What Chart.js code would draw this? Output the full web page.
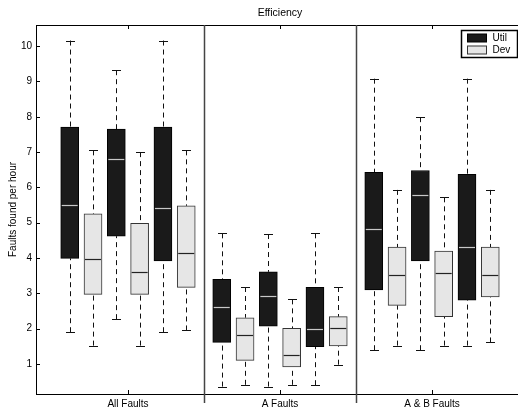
<!DOCTYPE html>
<html>
<head>
<meta charset="utf-8">
<script src="https://cdn.jsdelivr.net/npm/chart.js@4.4.1/dist/chart.umd.min.js"></script>
<style>
  html, body { margin: 0; padding: 0; background: #fff; overflow: hidden; }
  #wrap { width: 524px; height: 412px; }
</style>
</head>
<body>
<div id="wrap"><canvas id="effChart" width="524" height="412"></canvas></div>
<script>
// values
var groups = ['All Faults', 'A Faults', 'A & B Faults'];
var seriesNames = ['Util', 'Dev'];
var yTicks = [1, 2, 3, 4, 5, 6, 7, 8, 9, 10];
// each box: [min, q1, median, q3, max], three boxes per group
var utilBoxes = [
    [1.90, 3.99, 5.51, 7.71, 10.16],
    [2.27, 4.62, 6.81, 7.65, 9.32],
    [1.90, 3.92, 5.42, 7.71, 10.16],
    [0.36, 1.61, 2.61, 3.40, 4.70],
    [0.36, 2.07, 2.93, 3.61, 4.68],
    [0.40, 1.49, 1.98, 3.17, 4.70],
    [1.39, 3.10, 4.82, 6.43, 9.08],
    [1.39, 3.92, 5.79, 6.48, 7.99],
    [1.52, 2.81, 4.31, 6.37, 9.08]
];
var devBoxes = [
    [1.52, 2.97, 3.97, 5.25, 7.05],
    [1.52, 2.97, 3.60, 4.98, 7.00],
    [1.95, 3.17, 4.14, 5.48, 7.05],
    [0.41, 1.10, 1.82, 2.31, 3.18],
    [0.41, 0.92, 1.25, 2.01, 2.83],
    [0.98, 1.51, 2.03, 2.34, 3.18],
    [1.52, 2.66, 3.53, 4.31, 5.93],
    [1.52, 2.34, 3.57, 4.20, 5.72],
    [1.61, 2.90, 3.51, 4.31, 5.93]
];

var FONT = "'Liberation Sans', Arial, sans-serif";
var slotGap = 0.1533;   // distance between neighbouring boxes, in group units
var boxPx = 18;

// boxes go Util, Dev, Util, Dev, Util, Dev inside each group
function boxX(i, seriesIdx) {
    var g = Math.floor(i / 3);
    var slot = (i % 3) * 2 + seriesIdx;
    return g + 1 + (slot - 2.5) * slotGap;
}

function makeDataset(name, boxes, seriesIdx, fill, border, medColor) {
    return {
        label: name,
        data: boxes.map(function (b, i) { return { x: boxX(i, seriesIdx), y: [b[1], b[3]] }; }),
        stats: boxes,
        backgroundColor: fill,
        borderColor: border,
        borderWidth: 1,
        borderSkipped: false,
        barThickness: boxPx,
        grouped: false,
        medianColor: medColor
    };
}

var boxPlotPlugin = {
    id: 'boxPlot',
    beforeDatasetsDraw: function (chart) {
        var ctx = chart.ctx, x = chart.scales.x, y = chart.scales.y;
        ctx.save();
        ctx.lineWidth = 1;
        ctx.strokeStyle = '#111';
        chart.data.datasets.forEach(function (ds) {
            ds.stats.forEach(function (s, i) {
                var px = Math.round(x.getPixelForValue(ds.data[i].x)) + 0.5;
                var yMin = y.getPixelForValue(s[0]), yQ1 = y.getPixelForValue(s[1]);
                var yQ3 = y.getPixelForValue(s[3]), yMax = y.getPixelForValue(s[4]);
                ctx.setLineDash([5, 4]);
                ctx.beginPath();
                ctx.moveTo(px, yMax); ctx.lineTo(px, yQ3);
                ctx.moveTo(px, yMin); ctx.lineTo(px, yQ1);
                ctx.stroke();
                ctx.setLineDash([]);
                ctx.beginPath();
                ctx.moveTo(px - 4.5, Math.round(yMax) + 0.5); ctx.lineTo(px + 4.5, Math.round(yMax) + 0.5);
                ctx.moveTo(px - 4.5, Math.round(yMin) + 0.5); ctx.lineTo(px + 4.5, Math.round(yMin) + 0.5);
                ctx.stroke();
            });
        });
        ctx.restore();
    },
    afterDatasetsDraw: function (chart) {
        var ctx = chart.ctx, x = chart.scales.x, y = chart.scales.y;
        ctx.save();
        ctx.lineWidth = 1.2;
        chart.data.datasets.forEach(function (ds) {
            ctx.strokeStyle = ds.medianColor;
            ds.stats.forEach(function (s, i) {
                var px = x.getPixelForValue(ds.data[i].x);
                var py = Math.round(y.getPixelForValue(s[2])) + 0.5;
                ctx.beginPath();
                ctx.moveTo(px - boxPx / 2 + 1, py);
                ctx.lineTo(px + boxPx / 2 - 1, py);
                ctx.stroke();
            });
        });
        ctx.restore();
    },
    afterDraw: function (chart) {
        var ctx = chart.ctx, a = chart.chartArea, x = chart.scales.x, y = chart.scales.y;
        ctx.save();
        // frame
        ctx.strokeStyle = '#000';
        ctx.lineWidth = 1;
        ctx.strokeRect(Math.round(a.left) + 0.5, Math.round(a.top) + 0.5,
            Math.round(a.right - a.left), Math.round(a.bottom - a.top));
        // inside ticks
        ctx.beginPath();
        yTicks.forEach(function (v) {
            var py = Math.round(y.getPixelForValue(v)) + 0.5;
            ctx.moveTo(a.left, py); ctx.lineTo(a.left + 4, py);
        });
        groups.forEach(function (g, i) {
            var px = Math.round(x.getPixelForValue(i + 1)) + 0.5;
            ctx.moveTo(px, a.top); ctx.lineTo(px, a.top + 4);
            ctx.moveTo(px, a.bottom); ctx.lineTo(px, a.bottom - 4);
        });
        ctx.stroke();
        // group separators
        ctx.strokeStyle = '#444';
        ctx.lineWidth = 1.5;
        ctx.beginPath();
        for (var k = 1; k < groups.length; k++) {
            var sx = Math.round(x.getPixelForValue(k + 0.5)) + 0.5;
            ctx.moveTo(sx, a.top); ctx.lineTo(sx, a.bottom + 9);
        }
        ctx.stroke();
        // title
        ctx.fillStyle = '#000';
        ctx.font = '10.5px ' + FONT;
        ctx.textAlign = 'center';
        ctx.textBaseline = 'middle';
        ctx.fillText('Efficiency', (a.left + a.right) / 2, 13);
        // legend
        var lw = 56, lh = 27;
        var lx = Math.round(a.right - 7 - lw) + 0.5, ly = Math.round(a.top + 5) + 0.5;
        ctx.fillStyle = '#fff';
        ctx.fillRect(lx, ly, lw, lh);
        ctx.lineWidth = 1.5;
        ctx.strokeStyle = '#000';
        ctx.strokeRect(lx, ly, lw, lh);
        ctx.lineWidth = 1;
        ctx.font = '10px ' + FONT;
        ctx.textAlign = 'left';
        chart.data.datasets.forEach(function (ds, i) {
            var ry = ly + 3.5 + i * 12;
            ctx.fillStyle = ds.backgroundColor;
            ctx.fillRect(lx + 6, ry, 19, 8);
            ctx.strokeStyle = ds.borderColor;
            ctx.strokeRect(lx + 6, ry, 19, 8);
            ctx.fillStyle = '#000';
            ctx.fillText(ds.label, lx + 31, ry + 4.5);
        });
        ctx.restore();
    }
};

window.onload = function () {
    var ctx = document.getElementById('effChart').getContext('2d');
    this.effChart = new Chart(ctx, {
        type: 'bar',
        data: {
            datasets: [
                makeDataset(seriesNames[0], utilBoxes, 0, '#1a1a1a', '#000', '#c8c8c8'),
                makeDataset(seriesNames[1], devBoxes, 1, '#e6e6e6', '#333', '#222')
            ]
        },
        options: {
            responsive: false,
            animation: false,
            devicePixelRatio: 1,
            layout: { padding: { top: 25, right: 0, left: 0, bottom: 0 } },
            plugins: {
                legend: { display: false },
                tooltip: { enabled: false },
                title: { display: false }
            },
            scales: {
                x: {
                    type: 'linear',
                    min: 0.395,
                    max: 3.605,
                    offset: false,
                    grid: { display: false, drawTicks: false },
                    border: { display: false },
                    afterBuildTicks: function (axis) {
                        axis.ticks = groups.map(function (g, i) { return { value: i + 1 }; });
                    },
                    afterFit: function (axis) { axis.height = 18; },
                    ticks: {
                        autoSkip: false,
                        maxRotation: 0,
                        padding: 4,
                        color: '#000',
                        font: { family: FONT, size: 10 },
                        callback: function (v) { return groups[v - 1]; }
                    }
                },
                y: {
                    min: 0.15,
                    max: 10.6,
                    grid: { display: false, drawTicks: false },
                    border: { display: false },
                    afterBuildTicks: function (axis) {
                        axis.ticks = yTicks.map(function (v) { return { value: v }; });
                    },
                    afterFit: function (axis) { axis.width = 36; },
                    ticks: {
                        padding: 4,
                        color: '#000',
                        font: { family: FONT, size: 10 }
                    },
                    title: {
                        display: true,
                        text: 'Faults found per hour',
                        color: '#000',
                        font: { family: FONT, size: 10 },
                        padding: { top: 7, bottom: 0 }
                    }
                }
            }
        },
        plugins: [boxPlotPlugin]
    });
};
</script>
</body>
</html>
